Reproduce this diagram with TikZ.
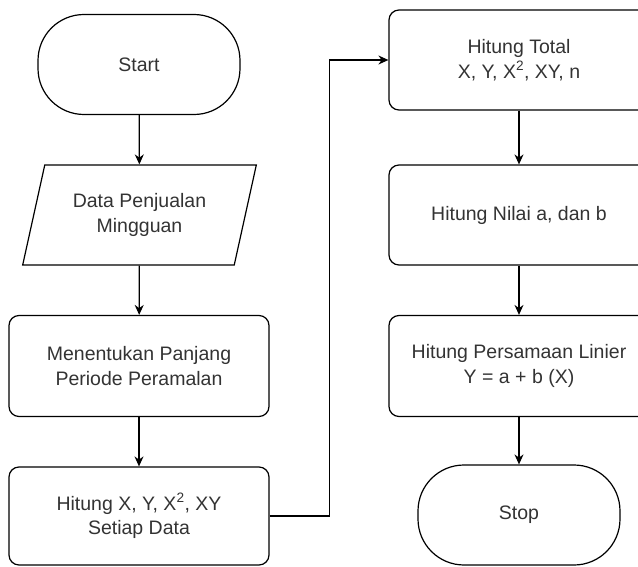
\documentclass[tikz,border=0pt]{standalone}
\usepackage{fontspec}
\setmainfont{Liberation Sans}
\usetikzlibrary{shapes.geometric,arrows.meta}
\tikzset{
	prosesbox/.style={draw,rounded corners=10pt,minimum width=260pt,minimum height=101pt,align=center},
	terminal/.style={draw,rounded corners=46pt,minimum width=202pt,minimum height=100pt,align=center},
	inputbox/.style={draw,trapezium,trapezium left angle=71.7,trapezium right angle=108.3,trapezium stretches=true,minimum width=234pt,minimum height=100pt,align=center},
	panah/.style={-{Stealth[length=10pt,width=9pt]}},
}
\begin{document}
\begin{tikzpicture}[x=1pt,y=-1pt,line width=1.2pt,font=\fontsize{19.5}{24.5}\selectfont,text=black!80]
			\useasboundingbox (0,0) rectangle (638,567);
			\clip (0,0) rectangle (638,567);
			\node[terminal] (start) at (139,64.5) {Start};
			\node[inputbox] (data) at (139.5,215) {Data Penjualan\\Mingguan};
			\node[prosesbox] (tentukan) at (139,366) {Menentukan Panjang\\Periode Peramalan};
			\node[prosesbox,minimum height=98pt] (hitungxy) at (139,516) {Hitung X, Y, X\textsuperscript{2}, XY\\Setiap Data};
	
			\node[prosesbox,minimum height=100pt] (total) at (519,60) {Hitung Total\\X, Y, X\textsuperscript{2}, XY, n};
			\node[prosesbox,minimum height=100pt] (nilai) at (519,215) {Hitung Nilai a, dan b};
			\node[prosesbox] (linier) at (519,366) {Hitung Persamaan Linier\\Y = a + b (X)};
			\node[terminal] (stop) at (519,515) {Stop};
	
			\draw[panah] (start) -- (data);
			\draw[panah] (data) -- (tentukan);
			\draw[panah] (tentukan) -- (hitungxy);
			\draw[panah] (hitungxy.east) -- ++(60,0) |- (total.west);
			\draw[panah] (total) -- (nilai);
			\draw[panah] (nilai) -- (linier);
			\draw[panah] (linier) -- (stop);
		\end{tikzpicture}
\end{document}
